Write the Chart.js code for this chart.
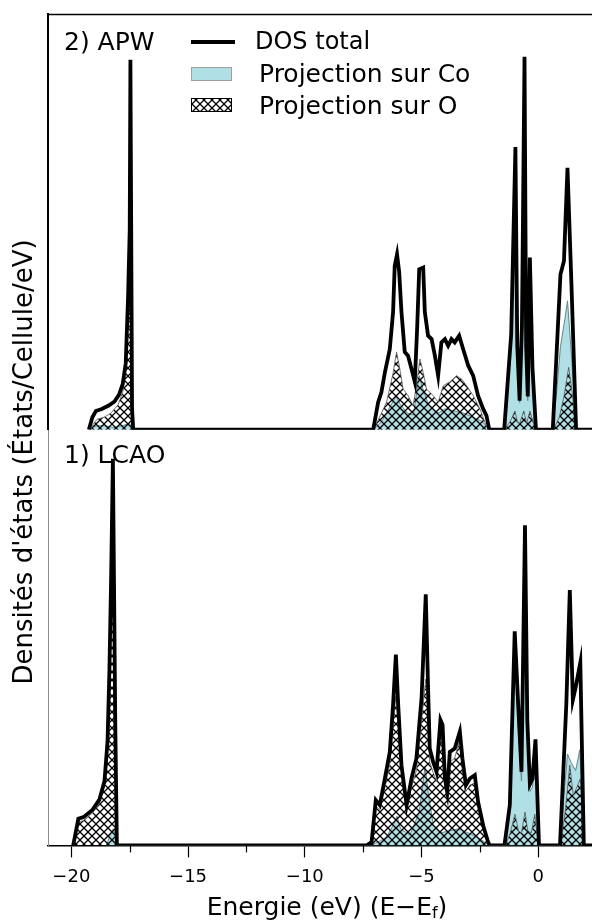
<!DOCTYPE html>
<html lang="fr">
<head>
<meta charset="UTF-8">
<title>DOS CoO - APW / LCAO</title>
<script src="https://cdn.jsdelivr.net/npm/chart.js@4"></script>
<style>
    html, body { margin: 0; padding: 0; background: #fff; overflow: hidden; }
    #wrap { width: 592px; height: 924px; overflow: hidden; }
</style>
</head>
<body>
<div id="wrap"><canvas id="dos" width="606" height="924"></canvas></div>
<script>
// Énergies en eV (E - Ef), densités en unités arbitraires (0..10 par panneau)

// 2) APW
const apwTotal = [
    [-19.25, 0], [-19.1, 0.3], [-18.95, 0.45], [-18.7, 0.5], [-18.4, 0.58], [-18.15, 0.68], [-17.95, 0.85],
    [-17.8, 1.1], [-17.67, 1.6], [-17.57, 3.2], [-17.5, 4.8], [-17.47, 8.9], [-17.4, 0.5], [-17.35, 0],
    [-7.07, 0], [-6.86, 0.66], [-6.72, 0.9], [-6.57, 1.38], [-6.36, 1.94], [-6.22, 2.83], [-6.15, 3.94],
    [-6.05, 4.22], [-5.96, 3.8], [-5.86, 2.83], [-5.72, 1.87], [-5.58, 1.78], [-5.43, 1.46], [-5.29, 1.15],
    [-5.19, 2.42], [-5.1, 3.86], [-4.93, 3.9], [-4.86, 2.83], [-4.72, 2.26], [-4.57, 2.18], [-4.43, 1.78],
    [-4.29, 1.3], [-4.15, 2.1], [-4.0, 2.18], [-3.86, 2.02], [-3.72, 2.18], [-3.58, 2.1], [-3.39, 2.26],
    [-3.22, 1.94], [-3.0, 1.54], [-2.79, 1.3], [-2.58, 0.82], [-2.36, 0.5], [-2.22, 0.34], [-2.1, 0],
    [-1.46, 0], [-1.16, 2.3], [-0.98, 6.8], [-0.9, 2.0], [-0.8, 0.7], [-0.7, 2.5], [-0.59, 8.97],
    [-0.52, 2.0], [-0.45, 0.8], [-0.36, 4.14], [-0.25, 1.5], [-0.1, 0],
    [0.62, 0], [0.78, 1.8], [0.95, 3.74], [1.1, 4.06], [1.25, 6.3], [1.42, 3.5], [1.62, 0], [3, 0]
];
const apwCo = [
    [-19.2, 0], [-19.1, 0.08], [-18.6, 0.1], [-18.2, 0.05], [-17.8, 0.1], [-17.5, 0.15], [-17.38, 0],
    [-7.07, 0], [-6.7, 0.2], [-6.4, 0.5], [-6.1, 0.8], [-5.9, 0.6], [-5.6, 0.4], [-5.35, 0.35], [-5.1, 1.3],
    [-4.95, 1.0], [-4.7, 0.6], [-4.3, 0.4], [-4.0, 0.5], [-3.6, 0.45], [-3.2, 0.4], [-2.8, 0.3], [-2.4, 0.2], [-2.1, 0],
    [-1.46, 0], [-1.16, 2.0], [-0.98, 6.4], [-0.9, 1.6], [-0.8, 0.65], [-0.7, 2.2], [-0.59, 8.6],
    [-0.52, 1.7], [-0.45, 0.7], [-0.36, 3.9], [-0.25, 1.2], [-0.1, 0],
    [0.62, 0], [0.8, 1.0], [0.95, 2.0], [1.15, 2.7], [1.25, 3.1], [1.42, 1.8], [1.62, 0]
];
const apwO = [
    [-19.15, 0], [-19.05, 0.15], [-18.9, 0.25], [-18.6, 0.3], [-18.3, 0.4], [-18.0, 0.6], [-17.8, 0.9],
    [-17.68, 1.4], [-17.6, 2.5], [-17.55, 3.5], [-17.5, 4.2], [-17.44, 2.5], [-17.38, 0],
    [-7.07, 0], [-6.85, 0.24], [-6.5, 0.66], [-6.22, 1.36], [-6.07, 1.87], [-5.93, 1.46], [-5.79, 0.98],
    [-5.58, 0.82], [-5.36, 0.58], [-5.22, 1.06], [-5.07, 1.7], [-4.93, 1.38], [-4.79, 0.98], [-4.5, 0.82],
    [-4.29, 0.66], [-4.07, 1.06], [-3.79, 1.15], [-3.5, 1.3], [-3.29, 1.22], [-3.07, 1.06], [-2.79, 0.82],
    [-2.5, 0.5], [-2.22, 0.08], [-2.1, 0],
    [-1.45, 0], [-1.2, 0.2], [-1.0, 0.45], [-0.9, 0.2], [-0.8, 0.15], [-0.62, 0.45], [-0.5, 0.15],
    [-0.36, 0.45], [-0.2, 0.15], [-0.1, 0],
    [0.65, 0], [0.9, 0.3], [1.1, 0.8], [1.3, 1.5], [1.45, 0.9], [1.62, 0]
];

// 1) LCAO
const lcaoTotal = [
    [-19.92, 0], [-19.7, 0.64], [-19.48, 0.68], [-19.1, 0.85], [-18.8, 1.1], [-18.58, 1.55], [-18.45, 2.5],
    [-18.37, 4.2], [-18.3, 6.3], [-18.22, 9.3], [-18.12, 3.0], [-18.05, 0],
    [-7.35, 0], [-7.14, 0.08], [-6.96, 1.09], [-6.79, 0.97], [-6.57, 1.61], [-6.36, 2.25], [-6.22, 3.38],
    [-6.1, 4.59], [-6.0, 3.38], [-5.86, 1.93], [-5.64, 0.97], [-5.43, 1.61], [-5.22, 2.09], [-5.0, 3.54],
    [-4.82, 6.04], [-4.72, 3.78], [-4.65, 2.33], [-4.5, 2.0], [-4.36, 1.77], [-4.19, 3.02], [-4.1, 2.9],
    [-4.0, 1.61], [-3.9, 1.29], [-3.79, 2.25], [-3.58, 2.33], [-3.36, 2.74], [-3.25, 2.09], [-3.1, 1.45],
    [-2.93, 1.61], [-2.72, 1.69], [-2.58, 1.05], [-2.36, 0.48], [-2.15, 0.08], [-2.08, 0],
    [-1.45, 0], [-1.22, 0.97], [-1.01, 5.15], [-0.86, 3.38], [-0.72, 1.77], [-0.57, 7.7], [-0.47, 3.0],
    [-0.36, 1.47], [-0.25, 1.6], [-0.12, 2.55], [0.03, 0],
    [0.93, 0], [1.05, 1.5], [1.2, 3.4], [1.35, 6.14], [1.48, 3.5], [1.6, 3.8], [1.8, 4.4], [1.95, 0], [3, 0]
];
const lcaoCo = [
    [-18.5, 0], [-18.3, 0.3], [-18.2, 0.4], [-18.1, 0.2], [-18.05, 0],
    [-7.2, 0], [-6.8, 0.1], [-6.5, 0.2], [-6.2, 0.5], [-6.05, 0.7], [-5.9, 0.4], [-5.5, 0.25], [-5.1, 0.8],
    [-4.85, 1.9], [-4.7, 1.2], [-4.5, 0.5], [-4.2, 0.3], [-3.8, 0.35], [-3.4, 0.4], [-3.0, 0.3], [-2.6, 0.2], [-2.1, 0],
    [-1.45, 0], [-1.22, 0.85], [-1.01, 4.6], [-0.86, 2.9], [-0.72, 1.55], [-0.57, 7.2], [-0.47, 2.7],
    [-0.36, 1.3], [-0.25, 1.4], [-0.12, 2.3], [0.03, 0],
    [0.93, 0], [1.1, 1.2], [1.25, 2.2], [1.4, 2.0], [1.6, 1.8], [1.78, 2.3], [1.95, 0]
];
const lcaoO = [
    [-19.9, 0], [-19.7, 0.55], [-19.48, 0.6], [-19.1, 0.78], [-18.8, 1.0], [-18.58, 1.42], [-18.45, 2.3],
    [-18.37, 3.8], [-18.3, 5.5], [-18.22, 6.8], [-18.12, 2.5], [-18.05, 0],
    [-7.3, 0], [-7.14, 0.06], [-6.96, 0.95], [-6.79, 0.85], [-6.57, 1.4], [-6.36, 1.95], [-6.22, 2.9],
    [-6.1, 3.6], [-6.0, 2.9], [-5.86, 1.7], [-5.64, 0.85], [-5.43, 1.4], [-5.22, 1.8], [-5.0, 3.0],
    [-4.82, 4.0], [-4.72, 3.2], [-4.65, 2.0], [-4.5, 1.75], [-4.36, 1.55], [-4.19, 2.65], [-4.1, 2.5],
    [-4.0, 1.4], [-3.9, 1.15], [-3.79, 2.0], [-3.58, 2.1], [-3.36, 2.55], [-3.25, 1.9], [-3.1, 1.3],
    [-2.93, 1.45], [-2.72, 1.5], [-2.58, 0.95], [-2.36, 0.42], [-2.15, 0.06], [-2.08, 0],
    [-1.4, 0], [-1.2, 0.3], [-1.0, 0.75], [-0.85, 0.35], [-0.72, 0.3], [-0.57, 0.8], [-0.45, 0.35],
    [-0.3, 0.3], [-0.15, 0.75], [0.0, 0],
    [0.95, 0], [1.15, 0.8], [1.35, 1.93], [1.5, 1.2], [1.65, 1.4], [1.8, 1.6], [1.95, 0]
];

const panelLabels = ['2) APW', '1) LCAO'];
const legendLabels = ['DOS total', 'Projection sur Co', 'Projection sur O'];
const xRange = [-21, 2.9];
const xMajorStep = 5;
const xMinorStep = 2.5;

const FONT = '"DejaVu Sans", sans-serif';
const CO_FILL = '#b0e0e6';

function pts(arr) {
    return arr.map(([x, y]) => ({ x, y }));
}

// motif quadrillé (hachures 'xxx')
function makeHatch(size) {
    const c = document.createElement('canvas');
    c.width = size;
    c.height = size;
    const g = c.getContext('2d');
    g.strokeStyle = '#000';
    g.lineWidth = 1.3;
    g.beginPath();
    g.moveTo(-1, -1); g.lineTo(size + 1, size + 1);
    g.moveTo(size + 1, -1); g.lineTo(-1, size + 1);
    g.stroke();
    return g.createPattern(c, 'repeat');
}
const hatch = makeHatch(8);

function fmtTick(v) {
    if (v % xMajorStep !== 0) return '';
    return v < 0 ? '\u2212' + Math.abs(v) : String(v);
}

// textes, légende, cadre et petites graduations
const dosDecor = {
    id: 'dosDecor',
    afterDraw(chart) {
        const { ctx, chartArea } = chart;
        const x = chart.scales.x;
        const yTop = chart.scales.yApw;
        const yBot = chart.scales.yLcao;
        ctx.save();

        // cadre du haut
        ctx.strokeStyle = '#000';
        ctx.lineWidth = 1.5;
        ctx.beginPath();
        ctx.moveTo(chartArea.left, yTop.top + 0.5);
        ctx.lineTo(chartArea.right, yTop.top + 0.5);
        ctx.stroke();

        // petites graduations
        ctx.lineWidth = 1.2;
        x.ticks.forEach(t => {
            if (t.value % xMajorStep === 0) return;
            const px = Math.round(x.getPixelForValue(t.value)) + 0.5;
            ctx.beginPath();
            ctx.moveTo(px, x.top);
            ctx.lineTo(px, x.top + 7);
            ctx.stroke();
        });

        ctx.fillStyle = '#000';
        ctx.textBaseline = 'middle';
        ctx.textAlign = 'left';
        ctx.font = '25px ' + FONT;
        ctx.fillText(panelLabels[0], chartArea.left + 16, yTop.top + 29);
        ctx.fillText(panelLabels[1], chartArea.left + 16, yBot.top + 27);

        // légende
        const lx = chartArea.left + 143;
        ctx.lineWidth = 4;
        ctx.beginPath();
        ctx.moveTo(lx, yTop.top + 28);
        ctx.lineTo(lx + 44, yTop.top + 28);
        ctx.stroke();
        ctx.font = '24px ' + FONT;
        ctx.fillText(legendLabels[0], lx + 64, yTop.top + 29);

        ctx.font = '25px ' + FONT;
        ctx.fillStyle = CO_FILL;
        ctx.fillRect(lx, yTop.top + 53, 41, 14);
        ctx.strokeStyle = '#a0a0a0';
        ctx.lineWidth = 1;
        ctx.strokeRect(lx + 0.5, yTop.top + 53.5, 40, 13);
        ctx.fillStyle = '#000';
        ctx.fillText(legendLabels[1], lx + 68, yTop.top + 61);

        ctx.fillStyle = hatch;
        ctx.fillRect(lx, yTop.top + 84, 41, 14);
        ctx.strokeStyle = '#000';
        ctx.strokeRect(lx + 0.5, yTop.top + 84.5, 40, 13);
        ctx.fillStyle = '#000';
        ctx.fillText(legendLabels[2], lx + 68, yTop.top + 93);

        // titre de l'axe x, avec indice
        const t1 = 'Energie (eV) (E\u2212E';
        const t2 = 'f';
        const t3 = ')';
        ctx.font = '25px ' + FONT;
        const w1 = ctx.measureText(t1).width;
        const w3 = ctx.measureText(t3).width;
        ctx.font = '16px ' + FONT;
        const w2 = ctx.measureText(t2).width;
        const cx = (chartArea.left + chartArea.right) / 2;
        const sx = cx - (w1 + w2 + w3) / 2;
        const ty = 908;
        ctx.font = '25px ' + FONT;
        ctx.fillText(t1, sx, ty);
        ctx.font = '16px ' + FONT;
        ctx.fillText(t2, sx + w1, ty + 6);
        ctx.font = '25px ' + FONT;
        ctx.fillText(t3, sx + w1 + w2, ty);

        // titre de l'axe y
        ctx.font = '26px ' + FONT;
        ctx.translate(25, chart.height / 2);
        ctx.rotate(-Math.PI / 2);
        ctx.textAlign = 'center';
        ctx.fillText("Densités d'états (États/Cellule/eV)", 0, 0);
        ctx.restore();
    }
};

function totalSet(data, axis) {
    return {
        label: legendLabels[0], data: pts(data), yAxisID: axis,
        borderColor: '#000', borderWidth: 3.8, fill: false, order: 1
    };
}
function coSet(data, axis) {
    return {
        label: legendLabels[1], data: pts(data), yAxisID: axis,
        borderColor: '#62868e', borderWidth: 1, backgroundColor: CO_FILL, fill: 'origin', order: 3
    };
}
function oSet(data, axis) {
    return {
        label: legendLabels[2], data: pts(data), yAxisID: axis,
        borderColor: '#555', borderWidth: 0.8, backgroundColor: hatch, fill: 'origin', order: 2
    };
}

const hiddenY = (borderColor, borderWidth) => ({
    type: 'linear', min: 0, max: 10, position: 'left', stack: 'panels', stackWeight: 1,
    border: { display: true, color: borderColor, width: borderWidth },
    grid: { display: false, drawTicks: false },
    ticks: { display: false }
});

new Chart(document.getElementById('dos'), {
    type: 'line',
    data: {
        datasets: [
            totalSet(apwTotal, 'yApw'), oSet(apwO, 'yApw'), coSet(apwCo, 'yApw'),
            totalSet(lcaoTotal, 'yLcao'), oSet(lcaoO, 'yLcao'), coSet(lcaoCo, 'yLcao')
        ]
    },
    options: {
        responsive: false,
        animation: false,
        devicePixelRatio: 1,
        layout: { padding: { left: 48, top: 14, right: 0, bottom: 27 } },
        elements: {
            point: { radius: 0 },
            line: { tension: 0, borderJoinStyle: 'miter' }
        },
        plugins: { legend: { display: false }, tooltip: { enabled: false } },
        scales: {
            x: {
                type: 'linear', min: xRange[0], max: xRange[1], position: 'bottom',
                border: { display: true, color: '#000', width: 1.5 },
                grid: {
                    drawOnChartArea: false, drawTicks: true, tickLength: 12, tickWidth: 1.2,
                    tickColor: ctx => (ctx.tick && ctx.tick.value % xMajorStep === 0) ? '#000' : 'rgba(0,0,0,0)'
                },
                ticks: {
                    stepSize: xMinorStep, includeBounds: false, autoSkip: false, maxRotation: 0,
                    padding: 9, color: '#000', font: { family: FONT, size: 18 },
                    callback: v => fmtTick(v)
                }
            },
            // le premier axe de la pile est placé en bas
            yLcao: hiddenY('#8a8a8a', 1),
            yApw: hiddenY('#000', 2)
        }
    },
    plugins: [dosDecor]
});
</script>
</body>
</html>
